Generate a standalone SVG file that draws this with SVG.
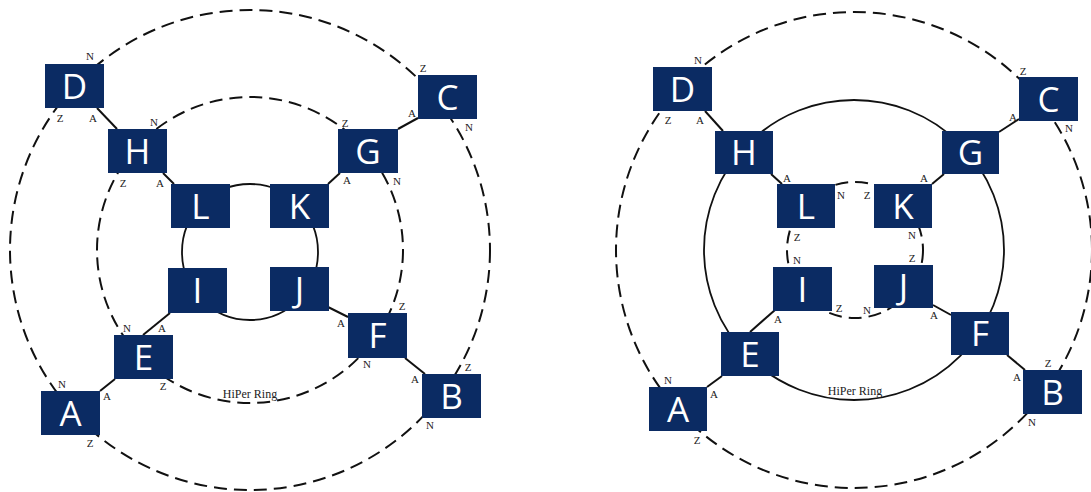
<svg xmlns="http://www.w3.org/2000/svg" width="1091" height="492" viewBox="0 0 1091 492">
<style>
.box{fill:#0b2b63}
.nl{font-family:"Open Sans",sans-serif;font-size:35px;fill:#fff;text-anchor:middle}
.pl{font-family:"Liberation Serif",serif;font-size:11px;fill:#222;text-anchor:middle}
.ring{font-family:"Liberation Serif",serif;font-size:12px;fill:#222;text-anchor:middle}
.dash{fill:none;stroke:#111;stroke-width:2;stroke-dasharray:13 7}
.solid{fill:none;stroke:#111;stroke-width:1.8}
.link{stroke:#111;stroke-width:2}
</style>
<rect width="1091" height="492" fill="#fff"/>
<g id="connectors">
  <!-- left diagram -->
  <circle class="dash" cx="250" cy="250" r="240"/>
  <circle class="dash" cx="250" cy="250" r="153"/>
  <circle class="solid" cx="250" cy="252" r="68"/>
  <line class="link" x1="97" y1="108" x2="117" y2="129"/>
  <line class="link" x1="163" y1="173" x2="174" y2="184"/>
  <line class="link" x1="418" y1="118" x2="398" y2="129"/>
  <line class="link" x1="340" y1="173" x2="328" y2="184"/>
  <line class="link" x1="170" y1="313" x2="143" y2="335"/>
  <line class="link" x1="115" y1="379" x2="100" y2="391"/>
  <line class="link" x1="328" y1="307" x2="348" y2="317"/>
  <line class="link" x1="405" y1="358" x2="425" y2="374"/>
  <!-- right diagram -->
  <circle class="dash" cx="854" cy="250" r="238"/>
  <circle class="solid" cx="854" cy="250" r="150"/>
  <circle class="dash" cx="855" cy="250" r="68"/>
  <line class="link" x1="705" y1="111" x2="723" y2="131"/>
  <line class="link" x1="771" y1="174" x2="782" y2="184"/>
  <line class="link" x1="1019" y1="119" x2="999" y2="132"/>
  <line class="link" x1="944" y1="174" x2="932" y2="184"/>
  <line class="link" x1="775" y1="310" x2="750" y2="332"/>
  <line class="link" x1="722" y1="376" x2="707" y2="387"/>
  <line class="link" x1="933" y1="305" x2="951" y2="315"/>
  <line class="link" x1="1007" y1="355" x2="1025" y2="370"/>
  <text class="ring" x="250" y="398">HiPer Ring</text>
  <text class="ring" x="855" y="395">HiPer Ring</text>
</g>
<!-- left nodes -->
<g id="L-D"><rect class="box" x="45" y="64" width="59" height="44"/><text class="nl" x="74.5" y="99">D</text>
<text class="pl" x="90" y="60">N</text><text class="pl" x="60" y="122">Z</text><text class="pl" x="93" y="122">A</text></g>
<g id="L-H"><rect class="box" x="108" y="129" width="59" height="44"/><text class="nl" x="137.5" y="164">H</text>
<text class="pl" x="154" y="126">N</text><text class="pl" x="123" y="187">Z</text><text class="pl" x="160" y="187">A</text></g>
<g id="L-L"><rect class="box" x="171" y="184" width="59" height="44"/><text class="nl" x="200.5" y="219">L</text></g>
<g id="L-C"><rect class="box" x="418" y="75" width="59" height="44"/><text class="nl" x="447.5" y="110">C</text>
<text class="pl" x="423" y="72">Z</text><text class="pl" x="412" y="117">A</text><text class="pl" x="469" y="131">N</text></g>
<g id="L-G"><rect class="box" x="338" y="129" width="60" height="44"/><text class="nl" x="368" y="164">G</text>
<text class="pl" x="345" y="127">Z</text><text class="pl" x="347" y="184">A</text><text class="pl" x="397" y="185">N</text></g>
<g id="L-K"><rect class="box" x="270" y="184" width="59" height="44"/><text class="nl" x="299.5" y="219">K</text></g>
<g id="L-I"><rect class="box" x="168" y="268" width="59" height="45"/><text class="nl" x="197.5" y="303">I</text></g>
<g id="L-J"><rect class="box" x="270" y="267" width="59" height="44"/><text class="nl" x="299.5" y="302">J</text></g>
<g id="L-E"><rect class="box" x="114" y="335" width="59" height="44"/><text class="nl" x="143.5" y="370">E</text>
<text class="pl" x="127" y="332">N</text><text class="pl" x="162" y="332">A</text><text class="pl" x="163" y="390">Z</text></g>
<g id="L-A"><rect class="box" x="41" y="391" width="59" height="44"/><text class="nl" x="70.5" y="426">A</text>
<text class="pl" x="62" y="388">N</text><text class="pl" x="107" y="400">A</text><text class="pl" x="90" y="447">Z</text></g>
<g id="L-F"><rect class="box" x="348" y="313" width="59" height="45"/><text class="nl" x="377.5" y="348">F</text>
<text class="pl" x="402" y="310">Z</text><text class="pl" x="341" y="327">A</text><text class="pl" x="367" y="368">N</text></g>
<g id="L-B"><rect class="box" x="422" y="374" width="59" height="44"/><text class="nl" x="451.5" y="409">B</text>
<text class="pl" x="468" y="371">Z</text><text class="pl" x="415" y="383">A</text><text class="pl" x="430" y="429">N</text></g>
<!-- right nodes -->
<g id="R-D"><rect class="box" x="653" y="67" width="59" height="44"/><text class="nl" x="682.5" y="102">D</text>
<text class="pl" x="698" y="64">N</text><text class="pl" x="668" y="124">Z</text><text class="pl" x="700" y="124">A</text></g>
<g id="R-H"><rect class="box" x="715" y="131" width="58" height="43"/><text class="nl" x="744" y="165">H</text></g>
<g id="R-L"><rect class="box" x="777" y="184" width="58" height="44"/><text class="nl" x="806" y="219">L</text>
<text class="pl" x="787" y="182">A</text><text class="pl" x="841" y="199">N</text><text class="pl" x="797" y="241">Z</text></g>
<g id="R-C"><rect class="box" x="1019" y="77" width="59" height="44"/><text class="nl" x="1048.5" y="112">C</text>
<text class="pl" x="1023" y="75">Z</text><text class="pl" x="1013" y="121">A</text><text class="pl" x="1069" y="132">N</text></g>
<g id="R-G"><rect class="box" x="942" y="131" width="57" height="43"/><text class="nl" x="970.5" y="165">G</text></g>
<g id="R-K"><rect class="box" x="874" y="184" width="58" height="44"/><text class="nl" x="903" y="219">K</text>
<text class="pl" x="924" y="182">A</text><text class="pl" x="867" y="199">Z</text><text class="pl" x="912" y="239">N</text></g>
<g id="R-I"><rect class="box" x="773" y="267" width="59" height="44"/><text class="nl" x="802.5" y="302">I</text>
<text class="pl" x="797" y="264">N</text><text class="pl" x="839" y="312">Z</text><text class="pl" x="778" y="323">A</text></g>
<g id="R-J"><rect class="box" x="874" y="265" width="59" height="43"/><text class="nl" x="903.5" y="299">J</text>
<text class="pl" x="912" y="262">Z</text><text class="pl" x="867" y="314">N</text><text class="pl" x="934" y="319">A</text></g>
<g id="R-E"><rect class="box" x="721" y="332" width="58" height="44"/><text class="nl" x="750" y="367">E</text></g>
<g id="R-A"><rect class="box" x="649" y="387" width="58" height="44"/><text class="nl" x="678" y="422">A</text>
<text class="pl" x="668" y="384">N</text><text class="pl" x="714" y="398">A</text><text class="pl" x="697" y="444">Z</text></g>
<g id="R-F"><rect class="box" x="951" y="312" width="58" height="43"/><text class="nl" x="980" y="346">F</text></g>
<g id="R-B"><rect class="box" x="1023" y="370" width="59" height="44"/><text class="nl" x="1052.5" y="405">B</text>
<text class="pl" x="1048" y="367">Z</text><text class="pl" x="1017" y="381">A</text><text class="pl" x="1032" y="426">N</text></g>
</svg>
